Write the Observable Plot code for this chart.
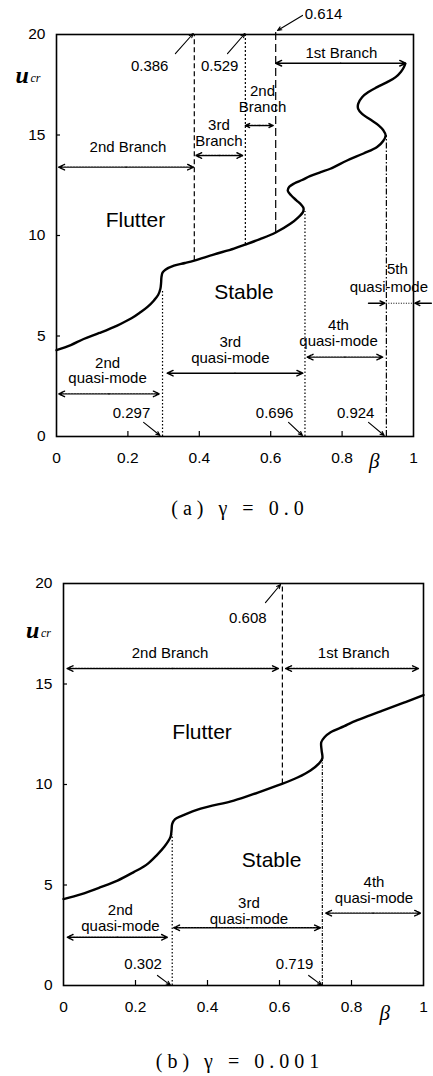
<!DOCTYPE html>
<html><head><meta charset="utf-8">
<script src="https://cdn.jsdelivr.net/npm/d3@7"></script>
<script src="https://cdn.jsdelivr.net/npm/@observablehq/plot@0.6"></script>
<style>
body{margin:0;background:#fff;}
#root{position:relative;width:433px;height:1076px;overflow:hidden;background:#fff;}
#root svg{position:absolute;left:0;}
.cap{position:absolute;left:100px;width:280px;text-align:center;font-family:"Liberation Serif","DejaVu Serif",serif;font-size:20px;line-height:24px;letter-spacing:5px;color:#000;}
</style></head><body><div id="root"></div>
<script>
// ---------- shared ticks ----------
const xTicks = [0, 0.2, 0.4, 0.6, 0.8, 1];
const yTicks = [0, 5, 10, 15, 20];
const xInnerTicks = [0.2, 0.4, 0.6, 0.8];
const yInnerTicks = [5, 10, 15];

// ---------- (a) gamma = 0.0 ----------
const curveA = [[0,4.3],[0.04,4.55],[0.076,4.85],[0.12,5.15],[0.17,5.52],[0.21,5.88],[0.235,6.18],[0.255,6.45],[0.273,6.77],[0.285,7.05],[0.291,7.35],[0.293,7.65],[0.294,7.93],[0.297,8.15],[0.305,8.3],[0.329,8.5],[0.36,8.63],[0.386,8.75],[0.44,9.05],[0.497,9.35],[0.529,9.55],[0.57,9.82],[0.614,10.15],[0.655,10.58],[0.678,10.92],[0.69,11.15],[0.692,11.35],[0.686,11.52],[0.672,11.75],[0.657,12.0],[0.648,12.22],[0.652,12.42],[0.667,12.6],[0.688,12.76],[0.71,12.95],[0.74,13.15],[0.767,13.32],[0.814,13.73],[0.86,14.08],[0.898,14.4],[0.915,14.7],[0.922,14.98],[0.915,15.25],[0.903,15.47],[0.878,15.78],[0.856,16.05],[0.845,16.3],[0.845,16.55],[0.856,16.88],[0.875,17.15],[0.898,17.38],[0.925,17.62],[0.95,17.88],[0.965,18.15],[0.973,18.37],[0.977,18.55]];
// critical beta lines: [beta, u_from, u_to]
const dottedLinesA = [[0.297,0,7.3],[0.696,0,11.2]];
const dashedLinesA = [[0.386,8.75,20]];
const fineDotLinesA = [[0.529,9.55,20]];
const longDashLinesA = [[0.614,10.15,20.25]];
const dashDotLinesA = [[0.924,0,14.98]];
// double arrows: [beta1, beta2, u]
const solidSpansA = [[0.614,0.978,18.57],[0.31,0.69,3.15]];
const dottedSpansA = [[0.006,0.384,13.4],[0.39,0.522,13.98],[0.529,0.607,15.47],[0.006,0.288,2.12],[0.702,0.914,3.95]];
// single pointer arrows: [beta1,u1,beta2,u2]
const pointersA = [[0.874,6.63,0.92,6.63],[1.05,6.63,1.004,6.63]];
const pointerLinkA = [[0.924,1.0,6.63]];
const leadersA = [[0.333,19.05,0.383,20.05],[0.479,19.05,0.528,20.05],[0.689,20.95,0.619,20.2],[0.244,0.7,0.29,0.05],[0.65,0.7,0.689,0.05],[0.874,0.7,0.918,0.05]];
const labelsA = [
  ["1st Branch",0.798,19.1],["2nd Branch",0.2,14.43],["3rd\nBranch",0.455,15.12],["2nd\nBranch",0.577,16.8],
  ["0.386",0.261,18.46],["0.529",0.457,18.46],["0.614",0.748,21.0],
  ["2nd\nquasi-mode",0.143,3.28],["3rd\nquasi-mode",0.487,4.3],["4th\nquasi-mode",0.79,5.14],
  ["5th",0.955,8.35],["quasi-mode",0.931,7.45],
  ["0.297",0.21,1.19],["0.696",0.611,1.19],["0.924",0.838,1.19]
];
const regionsA = [["Flutter",0.221,10.77],["Stable",0.525,7.19]];

// ---------- (b) gamma = 0.001 ----------
const curveB = [[0,4.3],[0.05,4.55],[0.103,4.89],[0.15,5.22],[0.195,5.64],[0.23,6.0],[0.26,6.5],[0.28,6.9],[0.297,7.38],[0.3,7.7],[0.302,8.04],[0.31,8.28],[0.33,8.45],[0.381,8.8],[0.473,9.2],[0.54,9.6],[0.607,10.03],[0.65,10.35],[0.686,10.7],[0.71,11.05],[0.719,11.3],[0.717,11.7],[0.716,12.1],[0.725,12.35],[0.742,12.6],[0.78,12.9],[0.8,13.08],[0.89,13.7],[0.95,14.1],[1,14.45]];
const dottedLinesB = [[0.302,0,7.5]];
const longDashLinesB = [[0.608,10.03,20]];
const dashDotLinesB = [[0.719,0,11.3]];
const dottedSpansB = [[0.01,0.597,15.77],[0.617,0.986,15.77],[0.728,0.992,3.6],[0.306,0.714,2.87],[0.01,0.289,2.4]];
const leadersB = [[0.561,19.05,0.603,19.95],[0.261,0.5,0.297,0.02],[0.681,0.5,0.717,0.02]];
const labelsB = [
  ["0.608",0.512,18.3],["2nd Branch",0.296,16.52],["1st Branch",0.806,16.52],
  ["4th\nquasi-mode",0.8625,4.75],["3rd\nquasi-mode",0.515,3.7],["2nd\nquasi-mode",0.158,3.36],
  ["0.302",0.221,1.09],["0.719",0.642,1.09]
];
const regionsB = [["Flutter",0.385,12.6],["Stable",0.578,6.22]];

function vlines(data, dash, w=1.2) {
  return Plot.ruleX(data, {x: d => d[0], y1: d => d[1], y2: d => d[2], stroke: "#000", strokeWidth: w, strokeDasharray: dash});
}
function spans(data, dash) {
  const common = {stroke: "#000", strokeWidth: 1.4, headLength: 7, headAngle: 50, bend: 0, strokeDasharray: dash};
  return [
    Plot.arrow(data, {x1: d => (d[0]+d[1])/2, x2: d => d[0], y1: d => d[2], y2: d => d[2], ...common}),
    Plot.arrow(data, {x1: d => (d[0]+d[1])/2, x2: d => d[1], y1: d => d[2], y2: d => d[2], ...common})
  ];
}

function chart(o) {
  const frameW = 433 - o.ml - o.mr;
  const frameH = o.height - o.mt - o.mb;
  return Plot.plot({
    width: 433, height: o.height,
    marginLeft: o.ml, marginRight: o.mr, marginTop: o.mt, marginBottom: o.mb,
    x: {domain: [0, 1]},
    y: {domain: [0, 20]},
    style: {fontFamily: "'Liberation Sans', Arial, sans-serif", fontSize: "15px", overflow: "visible", background: "transparent", color: "#000"},
    marks: [
      Plot.frame({stroke: "#000", strokeWidth: 1.6}),
      Plot.axisY(yTicks, {tickSize: 0, tickPadding: 11, fontSize: 15.5}),
      Plot.axisX(xTicks, {tickSize: 0, tickPadding: 15, fontSize: 15.5, tickFormat: d => String(d)}),
      Plot.tickY(yInnerTicks, {y: d => d, insetRight: frameW - 4, stroke: "#000", strokeWidth: 1.2}),
      Plot.tickX(xInnerTicks, {x: d => d, insetTop: frameH - 5, stroke: "#000", strokeWidth: 1.2}),
      ...o.marks,
      Plot.line(o.curve, {x: d => d[0], y: d => d[1], stroke: "#000", strokeWidth: 2.4, curve: "catmull-rom"}),
      Plot.text(o.labels, {x: d => d[1], y: d => d[2], text: d => d[0], fontSize: 15, lineHeight: 1.05, fill: "#000"}),
      Plot.text(o.regions, {x: d => d[1], y: d => d[2], text: d => d[0], fontSize: 21, fill: "#000"}),
      Plot.text(["u"], {frameAnchor: "top-left", dx: o.u[0], dy: o.u[1], fontFamily: "'Liberation Serif', serif", fontStyle: "italic", fontWeight: "bold", fontSize: 24}),
      Plot.text(["cr"], {frameAnchor: "top-left", dx: o.u[0] + 15, dy: o.u[1] + 8, fontFamily: "'Liberation Serif', serif", fontStyle: "italic", fontSize: 12}),
      Plot.text(["β"], {frameAnchor: "bottom-right", dx: o.b[0], dy: o.b[1], fontFamily: "'Liberation Serif', serif", fontStyle: "italic", fontSize: 21})
    ]
  });
}

const root = document.getElementById("root");

const svgA = chart({
  height: 480, ml: 56, mr: 20, mt: 34, mb: 44,
  curve: curveA, labels: labelsA, regions: regionsA, u: [-41, 31], b: [-34, 31],
  marks: [
    vlines(dottedLinesA, "1.5,2"),
    vlines(dashedLinesA, "5,3"),
    vlines(fineDotLinesA, "2,2"),
    vlines(longDashLinesA, "8,4"),
    vlines(dashDotLinesA, "6,2,1.5,2"),
    ...spans(solidSpansA, null),
    ...spans(dottedSpansA, "2,1"),
    Plot.arrow(pointersA, {x1: d => d[0], y1: d => d[1], x2: d => d[2], y2: d => d[3], stroke: "#000", strokeWidth: 1.4, headLength: 7, headAngle: 50, bend: 0}),
    Plot.ruleY(pointerLinkA, {x1: d => d[0], x2: d => d[1], y: d => d[2], stroke: "#000", strokeWidth: 1, strokeDasharray: "1,1.5"}),
    Plot.arrow(leadersA, {x1: d => d[0], y1: d => d[1], x2: d => d[2], y2: d => d[3], stroke: "#000", strokeWidth: 1.1, headLength: 6, headAngle: 45, bend: 0})
  ]
});
svgA.style.top = "0px";
root.appendChild(svgA);

const capA = document.createElement("div");
capA.className = "cap"; capA.style.top = "496px"; capA.textContent = "(a)  γ = 0.0";
root.appendChild(capA);

const svgB = chart({
  height: 500, ml: 63, mr: 10, mt: 53, mb: 45,
  curve: curveB, labels: labelsB, regions: regionsB, u: [-37.5, 37], b: [-33.5, 34],
  marks: [
    vlines(dottedLinesB, "1.5,2"),
    vlines(longDashLinesB, "5,3"),
    vlines(dashDotLinesB, "3,1.5,1,1.5"),
    ...spans(dottedSpansB, "2,1"),
    Plot.arrow(leadersB, {x1: d => d[0], y1: d => d[1], x2: d => d[2], y2: d => d[3], stroke: "#000", strokeWidth: 1.1, headLength: 6, headAngle: 45, bend: 0})
  ]
});
svgB.style.top = "530px";
root.appendChild(svgB);

const capB = document.createElement("div");
capB.className = "cap"; capB.style.top = "1049px"; capB.textContent = "(b)  γ = 0.001";
root.appendChild(capB);
</script>
</body></html>
